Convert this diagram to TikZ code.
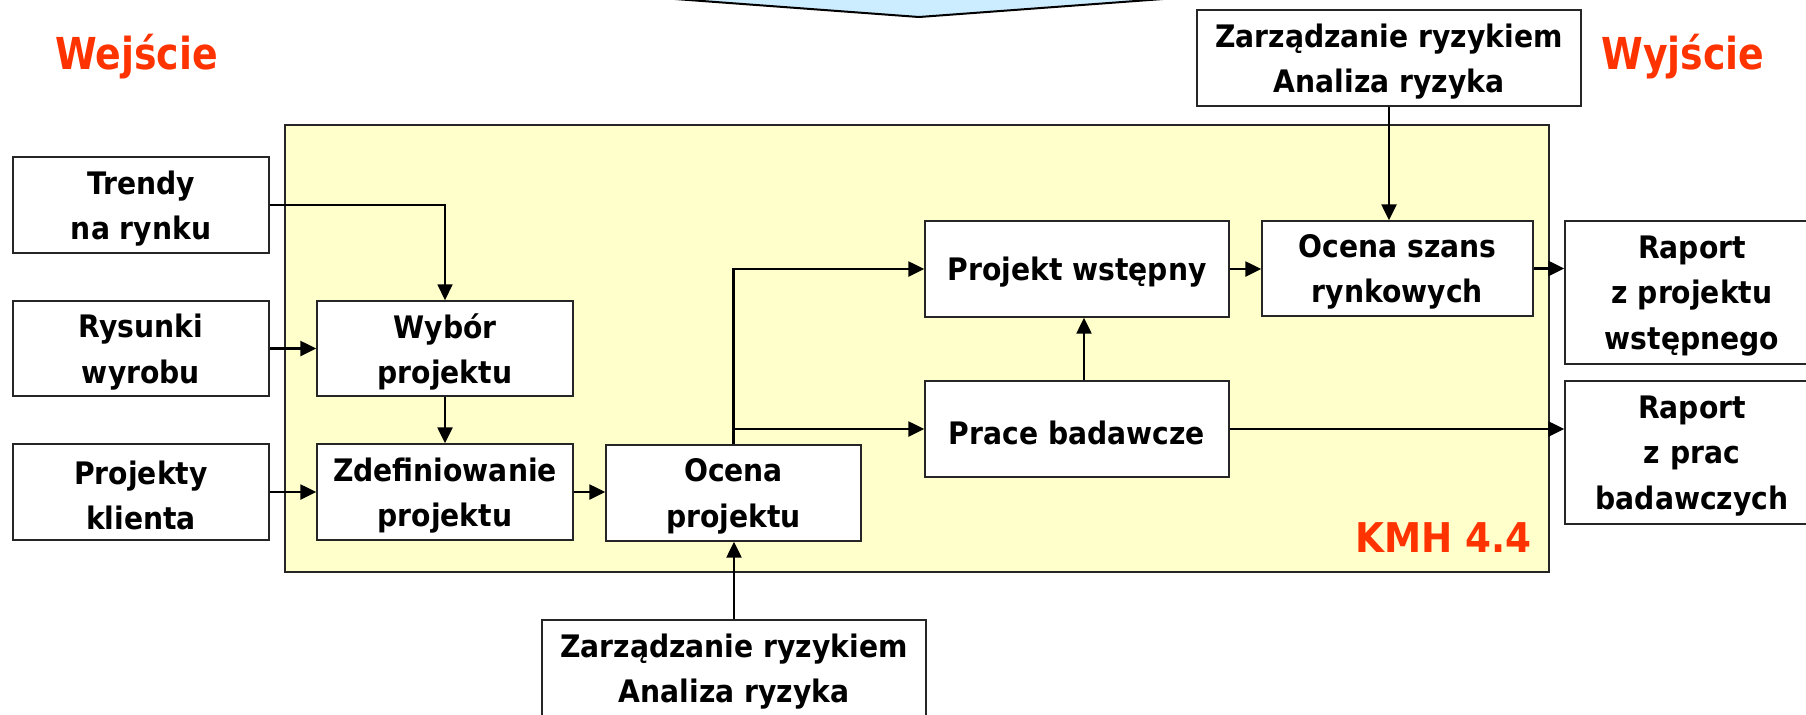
\documentclass[tikz,border=0pt]{standalone}
\usepackage{fontspec}
\setmainfont{DejaVu Sans}[FakeStretch=0.91]
\newfontfamily\titlefam{DejaVu Sans}[FakeStretch=0.86]
\usetikzlibrary{arrows.meta,calc}
\definecolor{tred}{HTML}{FF3300}
\definecolor{tyellow}{HTML}{FFFFCC}
\definecolor{tblue}{HTML}{CCECFF}
\newcommand\myfont{\fontsize{15.5pt}{22.7pt}\selectfont\bfseries}
\newcommand\mytitle{\titlefam\fontsize{22pt}{26pt}\selectfont\bfseries}
% box with separately placed text: name, position, width, height, text
\newcommand\bx[5]{%
  \node[box,minimum width=#3,minimum height=#4] (#1) at #2 {};
  \node[txt] (#1-t) at ($(#1.center)+(0,3.5)$) {#5};}
\begin{document}
\begin{tikzpicture}[x=0.5pt,y=-0.5pt,
  box/.style={draw=black!85,line width=0.7pt,fill=white,inner sep=0pt},
  txt/.style={align=center,inner sep=0pt,font=\myfont},
  arr/.style={line width=1.2pt,-{Triangle[length=8pt,width=7.5pt]}},
  thinarr/.style={line width=0.8pt,-{Triangle[length=8pt,width=7.5pt]}},
  title/.style={text=tred,inner sep=0pt,font=\mytitle},
]
\useasboundingbox (0,0) rectangle (1806,714);
% top blue shape
\draw[fill=tblue,draw=black,line width=1pt] (648,-3) -- (919,17) -- (1190,-3) -- cycle;
% frame
\node[draw=black!85,line width=0.7pt,fill=tyellow,inner sep=0pt,minimum width=632pt,minimum height=223.5pt] (frame) at (917,348.5) {};
% titles
\node[title,anchor=base west] (wej) at (55,69) {Wejście};
\node[title,anchor=base west] (wyj) at (1601,69) {Wyjście};
\node[title,anchor=base east,font=\fontsize{20.5pt}{24pt}\selectfont\bfseries] (kmh) at (1532,552) {KMH 4.4};
% boxes
\bx{trendy}{(141,205)}{128pt}{48pt}{Trendy\\na rynku}
\bx{rysunki}{(141,348.5)}{128pt}{47.5pt}{Rysunki\\wyrobu}
\bx{projekty}{(141,492)}{128pt}{48pt}{Projekty\\klienta}
\bx{wybor}{(445,348.5)}{128pt}{47.5pt}{Wybór\\projektu}
\bx{zdef}{(445,492)}{128pt}{48pt}{Zdefiniowanie\\projektu}
\bx{ocena}{(733.5,493)}{127.5pt}{48pt}{Ocena\\projektu}
\bx{pw}{(1077,269)}{152pt}{48pt}{Projekt wstępny}
\bx{prace}{(1077,429)}{152pt}{48pt}{Prace badawcze}
\bx{szans}{(1397.5,268.5)}{135.5pt}{47.5pt}{Ocena szans\\rynkowych}
\bx{risktop}{(1389,58)}{192pt}{48pt}{Zarządzanie ryzykiem\\Analiza ryzyka}
\bx{raport1}{(1692,292.5)}{127pt}{71.5pt}{Raport\\z projektu\\wstępnego}
\bx{raport2}{(1692,452.5)}{127pt}{71.5pt}{Raport\\z prac\\badawczych}
\bx{riskbot}{(734,668)}{192pt}{48pt}{Zarządzanie ryzykiem\\Analiza ryzyka}
% connectors
\draw[thinarr] (trendy.east) -| (wybor.north);
\draw[arr] (rysunki.east) -- (wybor.west);
\draw[arr] (projekty.east) -- (zdef.west);
\draw[arr] (wybor.south) -- (zdef.north);
\draw[arr] (zdef.east) -- (zdef.east -| ocena.west);
\draw[arr] (ocena.north) |- (pw.west);
\draw[arr] (ocena.north |- prace.west) -- (prace.west);
\draw[arr] ($(prace.north)+(7,0)$) -- ($(pw.south)+(7,0)$);
\draw[arr] (pw.east) -- (pw.east -| szans.west);
\draw[arr] (risktop.south) -- (risktop.south |- szans.north);
\draw[arr] (szans.east) -- (szans.east -| raport1.west);
\draw[arr] (prace.east) -- (prace.east -| raport2.west);
\draw[arr] (riskbot.north) -- (riskbot.north |- ocena.south);
\end{tikzpicture}
\end{document}
